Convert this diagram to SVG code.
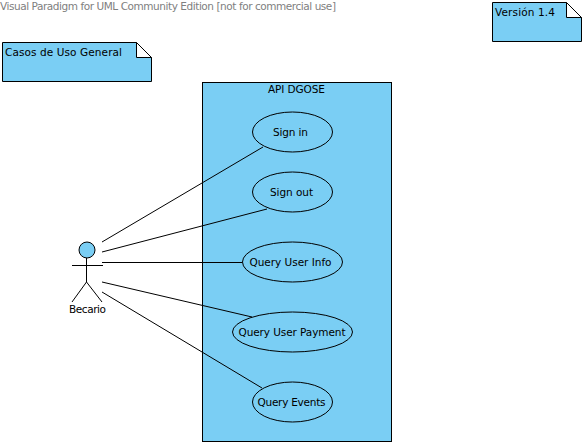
<svg xmlns="http://www.w3.org/2000/svg" width="586" height="446" viewBox="0 0 586 446">
<style>
.s{fill:#7acef4;stroke:#000;stroke-width:1}
.f{fill:#fff;stroke:#000;stroke-width:1}
.c{fill:none;stroke:#000;stroke-width:1}
text{font-family:"DejaVu Sans",sans-serif;font-size:10.500px;fill:#000}
</style>
<rect width="586" height="446" fill="#fff"/>
<text x="0" y="10" style="fill:#808080" textLength="336">Visual Paradigm for UML Community Edition [not for commercial use]</text>
<g id="note-general">
<path class="s" d="M2.500 42.500H136.500L151.500 57.500V81.500H2.500Z"/>
<path class="f" d="M136.500 42.500V57.500H151.500Z"/>
<text x="5" y="56" textLength="117">Casos de Uso General</text>
</g>
<g id="note-version">
<path class="s" d="M492.500 2.500H566.500L581.500 17.500V41.500H492.500Z"/>
<path class="f" d="M566.500 2.500V17.500H581.500Z"/>
<text x="495" y="16" textLength="60">Versión 1.4</text>
</g>
<g id="system">
<rect class="s" x="202.500" y="82.500" width="189" height="359"/>
<text x="268" y="93" textLength="57">API DGOSE</text>
</g>
<g id="connectors">
<path class="c" d="M102 242L263 147"/>
<path class="c" d="M102 252L267 209"/>
<path class="c" d="M102 262.500H242"/>
<path class="c" d="M102 282L252 317"/>
<path class="c" d="M102 292L262 388"/>
</g>
<g id="uc-signin"><ellipse class="c" cx="292.500" cy="132" rx="40" ry="20"/><text x="273" y="136" textLength="35">Sign in</text></g>
<g id="uc-signout"><ellipse class="c" cx="292.500" cy="192" rx="40" ry="20"/><text x="270" y="196" textLength="43">Sign out</text></g>
<g id="uc-info"><ellipse class="c" cx="292.500" cy="262" rx="50" ry="20"/><text x="249.500" y="266" textLength="82">Query User Info</text></g>
<g id="uc-payment"><ellipse class="c" cx="292.500" cy="332" rx="60" ry="20"/><text x="238.500" y="336" textLength="107">Query User Payment</text></g>
<g id="uc-events"><ellipse class="c" cx="292.500" cy="402" rx="40" ry="20"/><text x="257.500" y="406" textLength="68">Query Events</text></g>
<g id="actor-becario">
<circle cx="87" cy="250" r="8" fill="#7acef4" stroke="#000"/>
<path class="c" d="M86.500 258V282M72 265.500H103M86.500 282L72 302M86.500 282L102 302"/>
<text x="69" y="313" textLength="37">Becario</text>
</g>
</svg>
